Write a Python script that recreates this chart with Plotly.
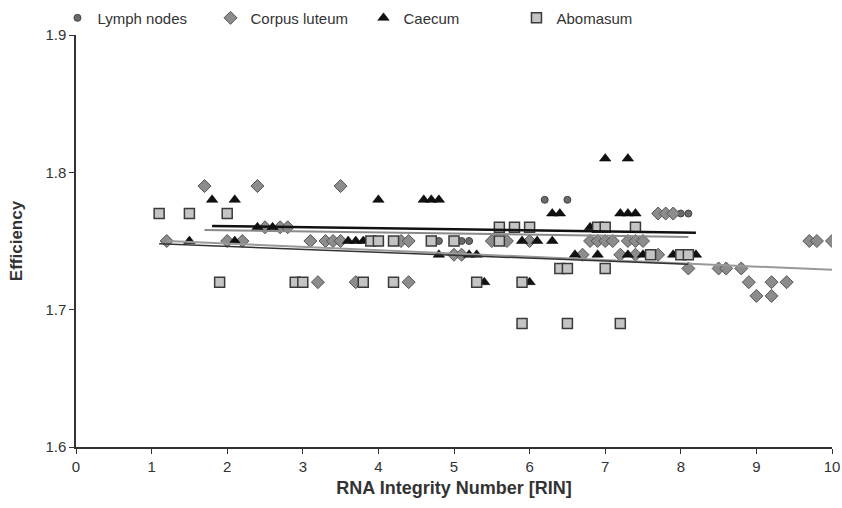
import plotly.graph_objects as go

# ---- data ----
lymph_x = [4.8, 5.1, 5.2, 6.2, 6.5, 8.0, 8.1]
lymph_y = [1.75, 1.75, 1.75, 1.78, 1.78, 1.77, 1.77]

corpus_x = [1.7, 2.4, 3.5,
            1.2, 2.0, 2.2,
            2.5, 2.7, 2.8,
            3.1, 3.3, 3.4, 3.5, 4.3, 4.4, 5.5, 5.7, 6.0,
            6.8, 6.9, 7.0, 7.1, 7.3, 7.4, 7.5,
            5.0, 5.1, 6.7, 7.2, 7.4, 7.7,
            7.7, 7.8, 7.9,
            3.2, 3.7, 4.4,
            8.1, 8.5, 8.6, 8.8,
            8.9, 9.2, 9.4,
            9.0, 9.2,
            9.7, 9.8, 10.0]
corpus_y = [1.79, 1.79, 1.79,
            1.75, 1.75, 1.75,
            1.76, 1.76, 1.76,
            1.75, 1.75, 1.75, 1.75, 1.75, 1.75, 1.75, 1.75, 1.75,
            1.75, 1.75, 1.75, 1.75, 1.75, 1.75, 1.75,
            1.74, 1.74, 1.74, 1.74, 1.74, 1.74,
            1.77, 1.77, 1.77,
            1.72, 1.72, 1.72,
            1.73, 1.73, 1.73, 1.73,
            1.72, 1.72, 1.72,
            1.71, 1.71,
            1.75, 1.75, 1.75]

caecum_x = [1.8, 2.1, 4.0, 4.6, 4.7, 4.8,
            7.0, 7.3,
            6.3, 6.4, 7.2, 7.3, 7.4,
            2.4, 2.6, 6.8,
            1.5, 2.1, 3.6, 3.7, 3.8, 5.9, 6.1, 6.3,
            4.8, 5.2, 5.3, 6.6, 6.9, 7.3, 7.5, 7.9, 8.2,
            5.4, 6.0]
caecum_y = [1.78, 1.78, 1.78, 1.78, 1.78, 1.78,
            1.81, 1.81,
            1.77, 1.77, 1.77, 1.77, 1.77,
            1.76, 1.76, 1.76,
            1.75, 1.75, 1.75, 1.75, 1.75, 1.75, 1.75, 1.75,
            1.74, 1.74, 1.74, 1.74, 1.74, 1.74, 1.74, 1.74, 1.74,
            1.72, 1.72]

aboma_x = [1.1, 1.5, 2.0,
           1.9, 2.9, 3.0, 3.8, 4.2, 5.3, 5.9,
           3.9, 4.0, 4.2, 4.7, 5.0, 5.6,
           5.6, 5.8, 6.0, 6.9, 7.0, 7.4,
           6.4, 6.5, 7.0,
           7.6, 8.0, 8.1,
           5.9, 6.5, 7.2]
aboma_y = [1.77, 1.77, 1.77,
           1.72, 1.72, 1.72, 1.72, 1.72, 1.72, 1.72,
           1.75, 1.75, 1.75, 1.75, 1.75, 1.75,
           1.76, 1.76, 1.76, 1.76, 1.76, 1.76,
           1.73, 1.73, 1.73,
           1.74, 1.74, 1.74,
           1.69, 1.69, 1.69]

# linear trend lines (start/end)
trend_lymph_x = [1.7, 8.1]
trend_lymph_y = [1.758, 1.753]
trend_corpus_x = [1.2, 10.0]
trend_corpus_y = [1.750, 1.729]
trend_caecum_x = [1.8, 8.2]
trend_caecum_y = [1.761, 1.756]
trend_aboma_x = [1.1, 8.1]
trend_aboma_y = [1.748, 1.733]

x_ticks = list(range(0, 11))
y_ticks = [1.6, 1.7, 1.8, 1.9]

fig = go.Figure()

fig.add_trace(go.Scatter(x=lymph_x, y=lymph_y, mode="markers", name="Lymph nodes",
                         marker=dict(symbol="circle", size=7, color="#6a6a6a",
                                     line=dict(color="#444", width=1))))
fig.add_trace(go.Scatter(x=corpus_x, y=corpus_y, mode="markers", name="Corpus luteum",
                         marker=dict(symbol="diamond", size=10, color="#8c8c8c",
                                     line=dict(color="#555", width=1))))
fig.add_trace(go.Scatter(x=caecum_x, y=caecum_y, mode="markers", name="Caecum",
                         marker=dict(symbol="triangle-up", size=10, color="#111",
                                     line=dict(color="#000", width=0.5))))
fig.add_trace(go.Scatter(x=aboma_x, y=aboma_y, mode="markers", name="Abomasum",
                         marker=dict(symbol="square", size=10, color="#c4c4c4",
                                     line=dict(color="#3a3a3a", width=1.5))))

fig.add_trace(go.Scatter(x=trend_corpus_x, y=trend_corpus_y, mode="lines", showlegend=False,
                         line=dict(color="#999", width=2)))
fig.add_trace(go.Scatter(x=trend_aboma_x, y=trend_aboma_y, mode="lines", showlegend=False,
                         line=dict(color="#333", width=1.5)))
fig.add_trace(go.Scatter(x=trend_lymph_x, y=trend_lymph_y, mode="lines", showlegend=False,
                         line=dict(color="#8a8a8a", width=2)))
fig.add_trace(go.Scatter(x=trend_caecum_x, y=trend_caecum_y, mode="lines", showlegend=False,
                         line=dict(color="#111", width=2.5)))

fig.update_layout(
    width=842, height=508,
    paper_bgcolor="white", plot_bgcolor="white",
    margin=dict(l=76, r=10, t=35, b=61, autoexpand=False),
    font=dict(family="Liberation Sans, Arial, sans-serif", color="#333", size=14),
    legend=dict(orientation="h", x=-0.0245, y=1.041, xanchor="left", yanchor="middle",
                entrywidth=108, entrywidthmode="pixels",
                font=dict(size=15, color="#333"), bgcolor="rgba(0,0,0,0)",
                itemclick=False, itemdoubleclick=False),
    showlegend=True,
)
fig.update_xaxes(range=[0, 10], tickvals=x_ticks, ticks="outside", ticklen=5,
                 tickcolor="#333", showline=True, linecolor="#333", linewidth=1.5,
                 showgrid=False, zeroline=False, tickfont=dict(size=15, color="#333"),
                 automargin=False,
                 title=dict(text="<b>RNA Integrity Number [RIN]</b>",
                            font=dict(size=18, color="#333"), standoff=8))
fig.update_yaxes(range=[1.6, 1.9], tickvals=y_ticks, tickformat=".1f", ticks="outside",
                 ticklen=5, tickcolor="#333", showline=True, linecolor="#333", linewidth=1.5,
                 showgrid=False, zeroline=False, tickfont=dict(size=15, color="#333"),
                 automargin=False,
                 title=dict(text="<b>Efficiency</b>", font=dict(size=17, color="#333"),
                            standoff=18))

fig.write_html("out.html", config={"displayModeBar": False},
               post_script="document.body.style.margin='0';document.body.style.overflow='hidden';")
